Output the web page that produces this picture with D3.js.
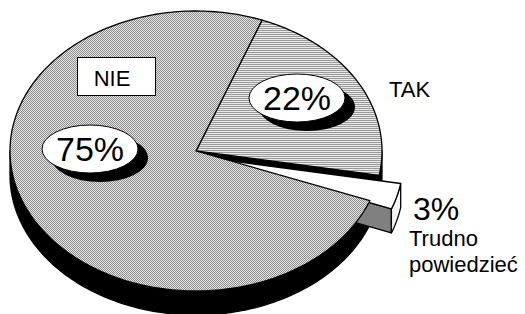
<!DOCTYPE html>
<html>
<head>
<meta charset="utf-8">
<script src="https://cdn.jsdelivr.net/npm/d3@7"></script>
<style>
  html, body { margin: 0; padding: 0; background: #fff; }
  svg { display: block; font-family: Arial, "Liberation Sans", sans-serif; }
</style>
</head>
<body>
<svg id="chart" width="525" height="314"></svg>
<script>
// data, in drawing order (clockwise from the TAK/NIE boundary)
const categories = ['TAK', 'Trudno powiedzieć', 'NIE'];
const values = [22, 3, 75];
const percentLabels = ['22%', '3%', '75%'];
const exploded = [false, true, false];

const W = 525, H = 314;
const cx = 196, cy = 151, rx = 186, ry = 140, depth = 24;
const startDeg = 20.8;

const svg = d3.select('#chart');
const defs = svg.append('defs');

// dithered fill for NIE
const pNie = defs.append('pattern').attr('id', 'p-nie')
  .attr('patternUnits', 'userSpaceOnUse').attr('width', 2).attr('height', 2);
pNie.append('rect').attr('width', 2).attr('height', 2).attr('fill', '#e6e6e6');
pNie.append('rect').attr('width', 1).attr('height', 1).attr('fill', '#8c8c8c');
pNie.append('rect').attr('x', 1).attr('y', 1).attr('width', 1).attr('height', 1).attr('fill', '#8c8c8c');

// horizontal lines for TAK
const pTak = defs.append('pattern').attr('id', 'p-tak')
  .attr('patternUnits', 'userSpaceOnUse').attr('width', 2).attr('height', 2);
pTak.append('rect').attr('width', 2).attr('height', 2).attr('fill', '#e8e8e8');
pTak.append('rect').attr('width', 2).attr('height', 1).attr('fill', '#9a9a9a');

const fills = { 'TAK': 'url(#p-tak)', 'NIE': 'url(#p-nie)', 'Trudno powiedzieć': '#ffffff' };

const pie = d3.pie().sort(null).value(d => d.value)
  .startAngle(startDeg * Math.PI / 180)
  .endAngle(startDeg * Math.PI / 180 + 2 * Math.PI);

const arcs = pie(categories.map((c, i) => ({ name: c, value: values[i], label: percentLabels[i], out: exploded[i] })));

// point on the rim of the tilted disc
const pt = (a, o, dz = 0) => [o[0] + cx + rx * Math.sin(a), o[1] + cy - ry * Math.cos(a) + dz];

function arcPoints(a0, a1, o, dz) {
  const n = Math.max(2, Math.ceil(Math.abs(a1 - a0) / 0.02));
  return d3.range(n + 1).map(i => pt(a0 + (a1 - a0) * i / n, o, dz));
}

function topPath(d, o) {
  const p = d3.path();
  p.moveTo(cx + o[0], cy + o[1]);
  arcPoints(d.startAngle, d.endAngle, o, 0).forEach(q => p.lineTo(q[0], q[1]));
  p.closePath();
  return p.toString();
}

// front rim (visible part: angles between 90 and 270 deg)
function rimPath(d, o) {
  const lo = Math.PI / 2, hi = 3 * Math.PI / 2;
  const paths = [];
  [0, 2 * Math.PI].forEach(shift => {
    const s = Math.max(d.startAngle, lo + shift), e = Math.min(d.endAngle, hi + shift);
    if (e <= s) return;
    const top = arcPoints(s, e, o, 0), bot = arcPoints(e, s, o, depth);
    paths.push('M' + top.concat(bot).map(q => q.join(',')).join('L') + 'Z');
  });
  return paths.join('');
}

function wallPath(a, o) {
  const c0 = [cx + o[0], cy + o[1]];
  const q = [c0, pt(a, o, 0), pt(a, o, depth), [c0[0], c0[1] + depth]];
  return 'M' + q.map(v => v.join(',')).join('L') + 'Z';
}

const offsetOf = d => {
  if (!d.data.out) return [0, 0];
  const m = (d.startAngle + d.endAngle) / 2;
  return [0.12 * rx * Math.sin(m), -0.22 * ry * Math.cos(m)];
};

const gPie = svg.append('g').attr('stroke', '#000').attr('stroke-width', 1.3).attr('stroke-linejoin', 'round');

const tak = arcs[0], tp = arcs[1], nie = arcs[2];

// back layer: TAK rim + end wall, NIE rim (all black)
[tak, nie].forEach(d => {
  gPie.append('path').attr('d', rimPath(d, [0, 0])).attr('fill', '#000');
});
gPie.append('path').attr('d', wallPath(tak.endAngle, [0, 0])).attr('fill', '#000');

// exploded slice
const o = offsetOf(tp);
gPie.append('path').attr('d', wallPath(tp.endAngle, o)).attr('fill', '#808080');
gPie.append('path').attr('d', rimPath(tp, o)).attr('fill', '#f4f4f4');
gPie.append('path').attr('d', topPath(tp, o)).attr('fill', fills[tp.data.name]);

// top faces of the main slices
[tak, nie].forEach(d => {
  gPie.append('path').attr('d', topPath(d, [0, 0])).attr('fill', fills[d.data.name]);
});

// percentage callouts (white ellipse with black drop shadow)
const callouts = [
  { label: tak.data.label, x: 297, y: 98 },
  { label: nie.data.label, x: 90, y: 149 }
];
const gc = svg.append('g');
callouts.forEach(c => {
  gc.append('ellipse').attr('cx', c.x + 10).attr('cy', c.y + 9).attr('rx', 48).attr('ry', 24).attr('fill', '#000');
  gc.append('ellipse').attr('cx', c.x).attr('cy', c.y).attr('rx', 48).attr('ry', 24)
    .attr('fill', '#fff').attr('stroke', '#000').attr('stroke-width', 1);
  gc.append('text').attr('x', c.x).attr('y', c.y + 12).attr('text-anchor', 'middle')
    .attr('font-size', 34).attr('fill', '#000').text(c.label);
});

// NIE label box
const gl = svg.append('g');
gl.append('rect').attr('x', 77.5).attr('y', 57.5).attr('width', 78).attr('height', 38)
  .attr('fill', '#fff').attr('stroke', '#000').attr('stroke-width', 1);
gl.append('text').attr('x', 112).attr('y', 86).attr('text-anchor', 'middle')
  .attr('font-size', 22).text(nie.data.name);

// TAK label
gl.append('text').attr('x', 389).attr('y', 97).attr('font-size', 22).text(tak.data.name);

// small slice labels
gl.append('text').attr('x', 413).attr('y', 220).attr('font-size', 32).text(tp.data.label);
const words = tp.data.name.split(' ');
gl.append('text').attr('x', 409).attr('y', 246).attr('font-size', 22).text(words[0]);
gl.append('text').attr('x', 409).attr('y', 272).attr('font-size', 22).text(words[1]);
</script>
</body>
</html>
